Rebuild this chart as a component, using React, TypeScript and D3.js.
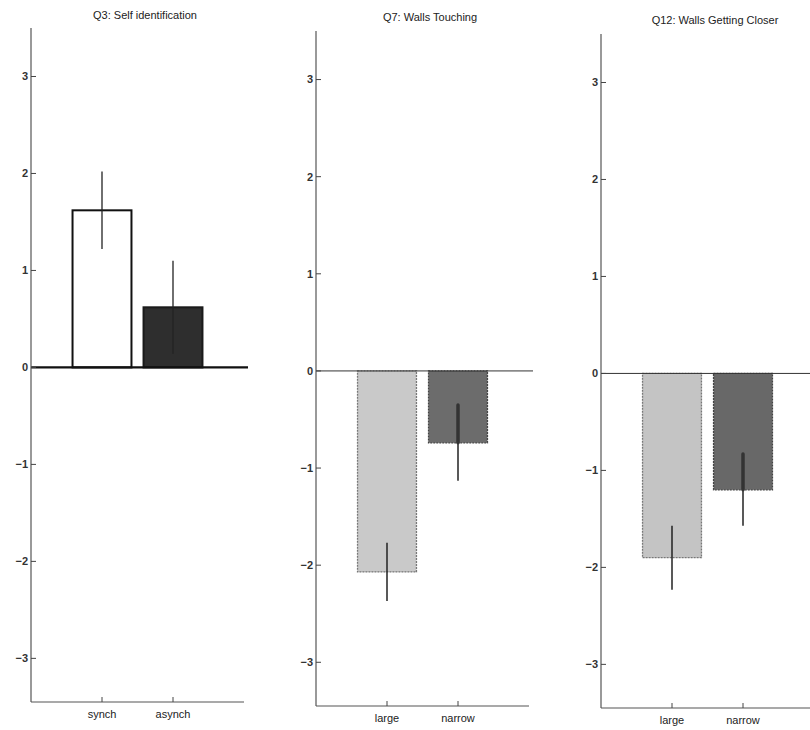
import React from "react";
import * as d3 from "d3";

const titles = ["Q3: Self identification", "Q7: Walls Touching", "Q12: Walls Getting Closer"];
const categories = [["synch", "asynch"], ["large", "narrow"], ["large", "narrow"]];
const means = [[1.62, 0.62], [-2.07, -0.74], [-1.9, -1.2]];
const errors = [[0.4, 0.48], [0.3, 0.39], [0.33, 0.37]];
const yTicks = [-3, -2, -1, 0, 1, 2, 3];

const W = 810, H = 730;
const panelLeft = [31, 316, 601];
const panelTop = [28, 31, 34];
const panelBottom = [702, 706, 708];
const panelWidth = 213;
const titleY = [19, 21, 24];
const titleX = [145, 430, 715];

const fills = [["#ffffff", "#2e2e2e"], ["#c9c9c9", "#6c6c6c"], ["#c4c4c4", "#686868"]];
const strokes = [["#111", "#1a1a1a"], ["#777", "#444"], ["#777", "#444"]];

function Panel({ i }: { i: number }) {
  const x = d3.scaleLinear().domain([0, 3]).range([panelLeft[i], panelLeft[i] + panelWidth]);
  const y = d3.scaleLinear().domain([-3.45, 3.5]).range([panelBottom[i], panelTop[i]]);
  const fmt = (v: number) => (v < 0 ? "\u2212" + Math.abs(v) : String(v));
  const bw = 0.83;
  const x0 = panelLeft[i];
  return (
    <g fontFamily="Liberation Sans, Arial, sans-serif">
      <text x={titleX[i]} y={titleY[i]} textAnchor="middle" fontSize={11} fill="#222">{titles[i]}</text>
      {means[i].map((m, j) => {
        const cx = x(j + 1);
        const yA = y(Math.max(0, m));
        const yB = y(Math.min(0, m));
        const sw = i === 0 ? 2 : 1.3;
        const hi = m + errors[i][j];
        const lo = m - errors[i][j];
        return (
          <g key={j}>
            <rect x={x(j + 1 - bw / 2)} y={yA} width={x(j + 1 + bw / 2) - x(j + 1 - bw / 2)} height={yB - yA}
              fill={fills[i][j]} stroke={strokes[i][j]} strokeWidth={sw}
              strokeDasharray={i === 0 ? undefined : "2,1"} />
            <line x1={cx} x2={cx} y1={y(hi)} y2={y(lo)}
              stroke="#222" strokeWidth={i === 0 ? 1.3 : 1.5} />
            {i > 0 && j === 1 && (
              <line x1={cx} x2={cx} y1={y(hi)} y2={y(m)} stroke="#333" strokeWidth={3.5} strokeLinecap="round" />
            )}
          </g>
        );
      })}
      <line x1={x0} x2={i === 2 ? W : x0 + panelWidth + 4} y1={y(0)} y2={y(0)}
        stroke={i === 0 ? "#111" : "#333"} strokeWidth={i === 0 ? 2.2 : 1} />
      <line x1={x0} x2={x0} y1={panelTop[i]} y2={panelBottom[i]} stroke="#555" strokeWidth={1.2} />
      {yTicks.map((t) => (
        <g key={t}>
          <line x1={x0} x2={x0 + 5} y1={y(t)} y2={y(t)} stroke="#444" strokeWidth={1} />
          <text x={x0 - 3} y={y(t)} dy="0.35em" textAnchor="end" fontSize={11} fontWeight="bold" fill="#333">{fmt(t)}</text>
        </g>
      ))}
      <line x1={x0} x2={x0 + panelWidth} y1={panelBottom[i]} y2={panelBottom[i]} stroke="#555" strokeWidth={1.2} />
      {categories[i].map((c, j) => (
        <g key={c}>
          <line x1={x(j + 1)} x2={x(j + 1)} y1={panelBottom[i]} y2={panelBottom[i] - 5} stroke="#444" strokeWidth={1} />
          <text x={x(j + 1)} y={panelBottom[i] + 16} textAnchor="middle" fontSize={11} fill="#222">{c}</text>
        </g>
      ))}
    </g>
  );
}

export default function App() {
  return (
    <svg width={W} height={H} style={{ position: "absolute", left: 0, top: 0, background: "#fff" }}>
      <rect width={W} height={H} fill="#fff" />
      {[0, 1, 2].map((i) => <Panel key={i} i={i} />)}
    </svg>
  );
}
